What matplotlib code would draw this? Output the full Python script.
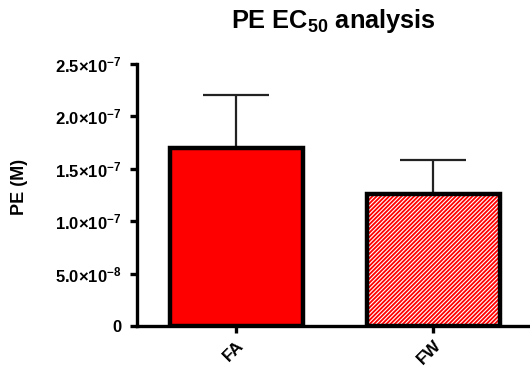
import numpy as np
import matplotlib.pyplot as plt
import matplotlib.transforms as mtransforms

plt.rcParams['font.family'] = 'Liberation Sans'
plt.rcParams['font.weight'] = 'bold'
plt.rcParams['mathtext.fontset'] = 'custom'
plt.rcParams['mathtext.rm'] = 'Liberation Sans:bold'
plt.rcParams['mathtext.it'] = 'Liberation Sans:bold'
plt.rcParams['mathtext.bf'] = 'Liberation Sans:bold'
plt.rcParams['hatch.linewidth'] = 0.8

groups = ['FA', 'FW']
ec50 = [1.70e-7, 1.26e-7]
sem = [0.50e-7, 0.325e-7]
yticks = [0, 0.5e-7, 1.0e-7, 1.5e-7, 2.0e-7, 2.5e-7]
ytick_labels = ['0', r'$5.0{\times}10^{-8}$', r'$1.0{\times}10^{-7}$',
                r'$1.5{\times}10^{-7}$', r'$2.0{\times}10^{-7}$', r'$2.5{\times}10^{-7}$']

fig = plt.figure(figsize=(5.3, 3.73), dpi=100)
ax = fig.add_axes([137/530, 47/373, 393/530, 262/373])

x = np.arange(len(groups))
w = 0.675

# error bars (upper only)
ax.errorbar(x, ec50, yerr=[[0, 0], sem], fmt='none', ecolor='#222222',
            elinewidth=1.6, capsize=23.8, capthick=1.6, zorder=1)

ax.bar(x[0], ec50[0], w, color='red', edgecolor='black', linewidth=3.2, zorder=2)
ax.bar(x[1], ec50[1], w, color='red', edgecolor='white', hatch='////////',
       linewidth=0, zorder=2)
ax.bar(x[1], ec50[1], w, fill=False, edgecolor='black', linewidth=3.2, zorder=3)

ax.set_xlim(-0.503, 1.492)
ax.set_ylim(0, 2.5e-7)
ax.set_yticks(yticks)
ax.set_yticklabels(ytick_labels, fontsize=12)
ax.set_xticks(x)
ax.set_xticklabels(groups, fontsize=12.5, rotation=45, ha='right',
                   rotation_mode='anchor')
shift = mtransforms.ScaledTranslation(-4/72, 0, fig.dpi_scale_trans)
for lbl in ax.get_xticklabels():
    lbl.set_transform(lbl.get_transform() + shift)

for s in ['top', 'right']:
    ax.spines[s].set_visible(False)
for s in ['left', 'bottom']:
    ax.spines[s].set_linewidth(2.4)
ax.spines['left'].set_bounds(0, 2.5e-7)
ax.tick_params(axis='both', width=2.4, length=5, color='black')
ax.tick_params(axis='y', pad=6)

fig.text(19/530, 0.5, 'PE (M)', rotation=90, ha='center', va='center',
         fontsize=13, fontweight='bold')
ax.set_title(r'PE EC$_{50}$ analysis', fontsize=18.3, fontweight='bold', pad=26)

fig.savefig('out.png', dpi=100)
